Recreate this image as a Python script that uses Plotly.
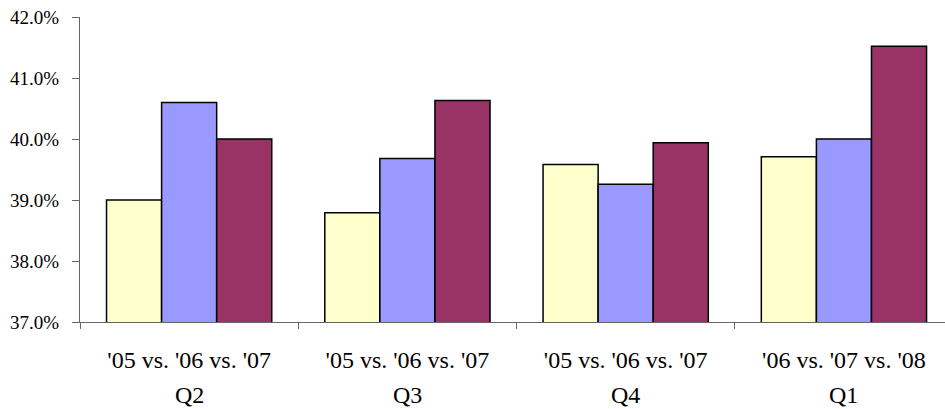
import plotly.graph_objects as go

# Gross-margin comparison by quarter, three consecutive years per quarter
quarters = ["Q2", "Q3", "Q4", "Q1"]
comparisons = ["'05 vs. '06 vs. '07", "'05 vs. '06 vs. '07", "'05 vs. '06 vs. '07", "'06 vs. '07 vs. '08"]
year1 = [39.00, 38.79, 39.58, 39.71]
year2 = [40.60, 39.68, 39.26, 40.00]
year3 = [40.00, 40.63, 39.94, 41.52]
y_ticks = [37, 38, 39, 40, 41, 42]

colors = ["#FFFFCC", "#9999FF", "#993366"]
series = [year1, year2, year3]

FONT = "Liberation Serif, Times New Roman, serif"

fig = go.Figure()
for vals, col in zip(series, colors):
    fig.add_trace(go.Bar(
        x=quarters, y=vals,
        marker=dict(color=col, line=dict(color="#000000", width=1.5)),
        showlegend=False,
    ))

fig.update_layout(
    width=945, height=409,
    margin=dict(l=80, r=0, t=17, b=87),
    plot_bgcolor="white", paper_bgcolor="white",
    barmode="group", bargap=0.243, bargroupgap=0,
    font=dict(family=FONT, color="#000000"),
)

fig.update_xaxes(
    type="category",
    range=[-0.5, 3.463],
    tickvals=quarters, ticktext=comparisons,
    tickson="boundaries",
    ticks="outside", ticklen=6, tickcolor="#666666",
    showline=True, linecolor="#666666", linewidth=1,
    tickfont=dict(size=24, family=FONT, color="#000000"),
    ticklabelstandoff=16,
    showgrid=False,
)
fig.update_yaxes(
    range=[37, 42],
    tickvals=y_ticks,
    ticktext=[f"{v:.1f}%" for v in y_ticks],
    ticks="outside", ticklen=7, tickcolor="#666666",
    showline=True, linecolor="#666666", linewidth=1,
    tickfont=dict(size=19, family=FONT, color="#000000"),
    ticklabelstandoff=9,
    showgrid=False, zeroline=False,
)

# quarter name on a second row under each comparison label
for q in quarters:
    fig.add_annotation(
        x=q, xref="x", y=0, yref="paper", yanchor="middle", yshift=-73,
        text=q, showarrow=False,
        font=dict(size=24, family=FONT, color="#000000"),
    )

fig.write_html("out.html")
